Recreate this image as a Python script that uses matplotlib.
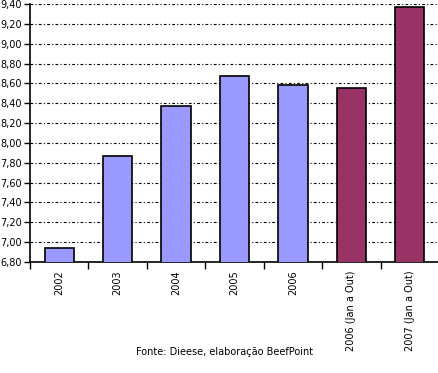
import matplotlib.pyplot as plt
import numpy as np

categorias = ['2002', '2003', '2004', '2005', '2006', '2006 (Jan a Out)', '2007 (Jan a Out)']
valores = [6.94, 7.87, 8.37, 8.67, 8.58, 8.55, 9.37]
cores = ['#9999FF'] * 5 + ['#993366'] * 2
y_ticks = [6.8 + 0.2 * i for i in range(14)]
fonte = 'Fonte: Dieese, elaboração BeefPoint'

fig = plt.figure(figsize=(4.39, 3.73), dpi=100)
ax = fig.add_axes([30 / 439, 111 / 373, 409 / 439, 258 / 373])

x = np.arange(len(categorias))
ax.bar(x, valores, width=0.5, color=cores, edgecolor='black', linewidth=1.2, zorder=3)

ax.set_xlim(-0.5, len(categorias) - 0.5)
ax.set_ylim(6.8, 9.4)
ax.set_yticks(y_ticks)
ax.set_yticklabels([f'{v:.2f}'.replace('.', ',') for v in y_ticks], fontsize=7)
ax.yaxis.grid(True, color='black', linestyle=(0, (2.5, 2, 1, 2)), linewidth=0.8, zorder=0)

# ticks entre as categorias, rótulos no centro
ax.set_xticks(np.arange(len(categorias) + 1) - 0.5)
ax.set_xticklabels([])
ax.set_xticks(x, minor=True)
ax.set_xticklabels(categorias, minor=True, rotation=90, fontsize=7)
ax.tick_params(axis='x', which='minor', length=0, pad=6)
ax.tick_params(axis='x', which='major', length=5, width=1, direction='out')
ax.tick_params(axis='y', length=4, width=1, pad=2)

for s in ['top', 'right']:
    ax.spines[s].set_visible(False)
ax.spines['left'].set_linewidth(1.2)
ax.spines['bottom'].set_linewidth(1.2)

fig.text(225 / 439, 1 - 352 / 373, fonte, ha='center', va='center', fontsize=7)

fig.savefig('out.png', dpi=100)
